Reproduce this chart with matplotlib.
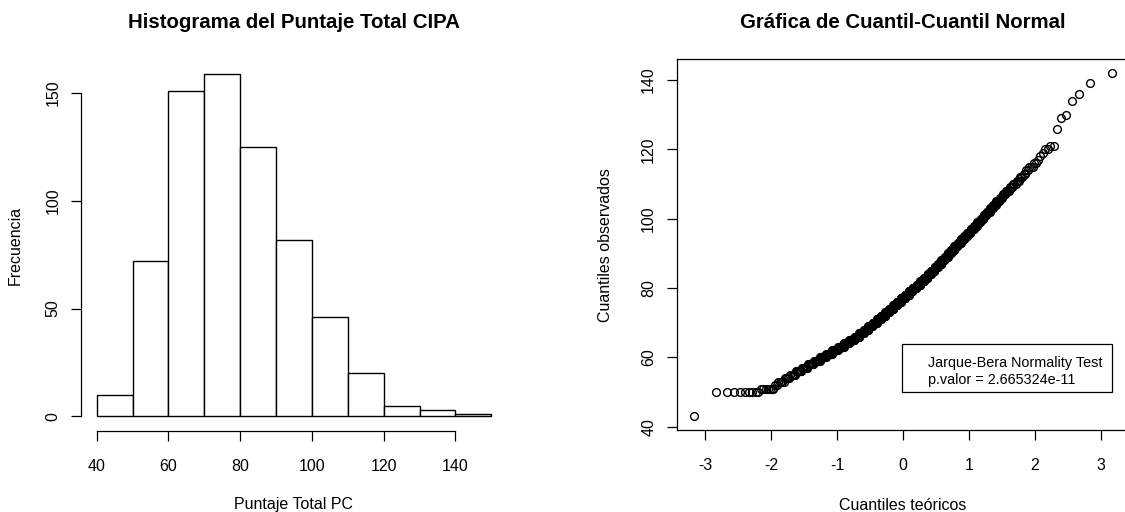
import numpy as np
import matplotlib
matplotlib.use("Agg")
import matplotlib.pyplot as plt
from matplotlib.patches import Rectangle
from statistics import NormalDist

plt.rcParams['font.family'] = ['Liberation Sans', 'DejaVu Sans']
plt.rcParams['axes.unicode_minus'] = False

score_values = [43, 50,
                51, 52, 53, 54, 55, 56, 57, 58, 59, 60,
                61, 62, 63, 64, 65, 66, 67, 68, 69, 70,
                71, 72, 73, 74, 75, 76, 77, 78, 79, 80,
                81, 82, 83, 84, 85, 86, 87, 88, 89, 90,
                91, 92, 93, 94, 95, 96, 97, 98, 99, 100,
                101, 102, 103, 104, 105, 106, 107, 108, 109, 110,
                111, 112, 113, 114, 115, 116, 117, 118, 119, 120,
                121, 126, 129, 130,
                134, 136, 139,
                142]
score_counts = [1, 9,
                7, 2, 5, 5, 6, 7, 8, 9, 11, 12,
                13, 14, 15, 15, 16, 15, 16, 15, 16, 16,
                16, 16, 16, 16, 16, 16, 16, 16, 15, 16,
                15, 14, 14, 13, 13, 12, 12, 11, 11, 10,
                10, 10, 9, 9, 8, 8, 8, 7, 7, 6,
                6, 6, 5, 5, 5, 4, 4, 4, 4, 3,
                3, 3, 2, 2, 3, 2, 1, 1, 1, 2,
                2, 1, 1, 1,
                1, 1, 1,
                1]
bin_edges = [40, 50, 60, 70, 80, 90, 100, 110, 120, 130, 140, 150]
hist_xticks = [40, 60, 80, 100, 120, 140]
hist_yticks = [0, 50, 100, 150]
qq_xticks = [-3, -2, -1, 0, 1, 2, 3]
qq_yticks = [40, 60, 80, 100, 120, 140]
jb_pvalue = "2.665324e-11"

sample = np.sort(np.repeat(score_values, score_counts)).astype(float)
n = len(sample)
edges = np.array(bin_edges, dtype=float)
# R-style right-closed bins (first bin includes its lower edge)
idx = np.clip(np.searchsorted(edges, sample, side='left') - 1, 0, len(edges) - 2)
hist_counts = np.bincount(idx, minlength=len(edges) - 1)

nd = NormalDist()
theo = np.array([nd.inv_cdf((i - 0.5) / n) for i in range(1, n + 1)])

W, H = 1125, 512
fig = plt.figure(figsize=(W / 100, H / 100), dpi=100)

def ax_rect(x0, x1, ytop, ybot):
    return [x0 / W, (H - ybot) / H, (x1 - x0) / W, (ybot - ytop) / H]

fs_tick = 11.5
fs_lab = 11.5
fs_title = 14.7

# ---------------- Histogram ----------------
ax1 = fig.add_axes(ax_rect(81, 507, 60, 430))
ax1.bar(edges[:-1], hist_counts, width=np.diff(edges), align='edge',
        facecolor='white', edgecolor='black', linewidth=1.0)
rng = edges[-1] - edges[0]
ax1.set_xlim(edges[0] - 0.04 * rng, edges[-1] + 0.04 * rng)
ymax = hist_counts.max()
ax1.set_ylim(-0.04 * ymax, ymax * 1.04)
for s in ['top', 'right']:
    ax1.spines[s].set_visible(False)
ax1.spines['bottom'].set_bounds(hist_xticks[0], hist_xticks[-1])
ax1.spines['left'].set_bounds(hist_yticks[0], hist_yticks[-1])
ax1.spines['bottom'].set_position(('outward', 1))
for s in ['bottom', 'left']:
    ax1.spines[s].set_linewidth(0.9)
ax1.set_xticks(hist_xticks)
ax1.set_yticks(hist_yticks)
ax1.set_yticklabels([str(v) for v in hist_yticks], rotation=90, va='center')
ax1.tick_params(axis='x', length=7, width=0.9, pad=13, labelsize=fs_tick)
ax1.tick_params(axis='y', length=7.5, width=0.9, pad=7, labelsize=fs_tick)
ax1.set_title("Histograma del Puntaje Total CIPA", fontsize=fs_title,
              fontweight='bold', y=1 + (60 - 28) / 370, pad=0)
ax1.set_xlabel("Puntaje Total PC", fontsize=fs_lab)
ax1.xaxis.set_label_coords(0.5, (430 - 505) / 370)
ax1.xaxis.label.set_va('center')
ax1.set_ylabel("Frecuencia", fontsize=fs_lab)
ax1.yaxis.set_label_coords(-(81 - 15) / 426, 0.5)
ax1.yaxis.label.set_va('center')

# ---------------- Q-Q plot ----------------
ax2 = fig.add_axes(ax_rect(677, 1129, 59.3, 430))
ax2.plot(theo, sample, linestyle='none', marker='o', markersize=5.6,
         markerfacecolor='none', markeredgecolor='black', markeredgewidth=1.0)
tr = theo.max() - theo.min()
ax2.set_xlim(theo.min() - 0.04 * tr, theo.max() + 0.04 * tr)
sr = sample.max() - sample.min()
ax2.set_ylim(sample.min() - 0.04 * sr, sample.max() + 0.04 * sr)
for s in ax2.spines.values():
    s.set_linewidth(0.9)
ax2.set_xticks(qq_xticks)
ax2.set_yticks(qq_yticks)
ax2.set_yticklabels([str(v) for v in qq_yticks], rotation=90, va='center')
ax2.tick_params(axis='x', length=7, width=0.9, pad=13, labelsize=fs_tick)
ax2.tick_params(axis='y', length=7, width=0.9, pad=8, labelsize=fs_tick)
ax2.set_title("Gráfica de Cuantil-Cuantil Normal", fontsize=fs_title,
              fontweight='bold', y=1 + (59.3 - 28) / 370.7, pad=0)
ax2.set_xlabel("Cuantiles teóricos", fontsize=fs_lab)
ax2.xaxis.set_label_coords(0.5, (430 - 505) / 370.7)
ax2.xaxis.label.set_va('center')
ax2.set_ylabel("Cuantiles observados", fontsize=fs_lab)
ax2.yaxis.set_label_coords(-(677 - 606) / 452, 0.5)
ax2.yaxis.label.set_va('center')

# legend box
bx0, bx1 = (902.3 - 677) / 452, (1111.7 - 677) / 452
by0, by1 = (430 - 392) / 370.7, (430 - 344.3) / 370.7
ax2.add_patch(Rectangle((bx0, by0), bx1 - bx0, by1 - by0, transform=ax2.transAxes,
                        facecolor='white', edgecolor='black', linewidth=0.9, zorder=5))
tx = (928.3 - 677) / 452
ax2.text(tx, (430 - 363.3) / 370.7, "Jarque-Bera Normality Test", transform=ax2.transAxes,
         fontsize=10.4, va='center', ha='left', zorder=6)
ax2.text(tx, (430 - 380) / 370.7, "p.valor = " + jb_pvalue, transform=ax2.transAxes,
         fontsize=10.4, va='center', ha='left', zorder=6)

fig.savefig("out.png", dpi=100)
